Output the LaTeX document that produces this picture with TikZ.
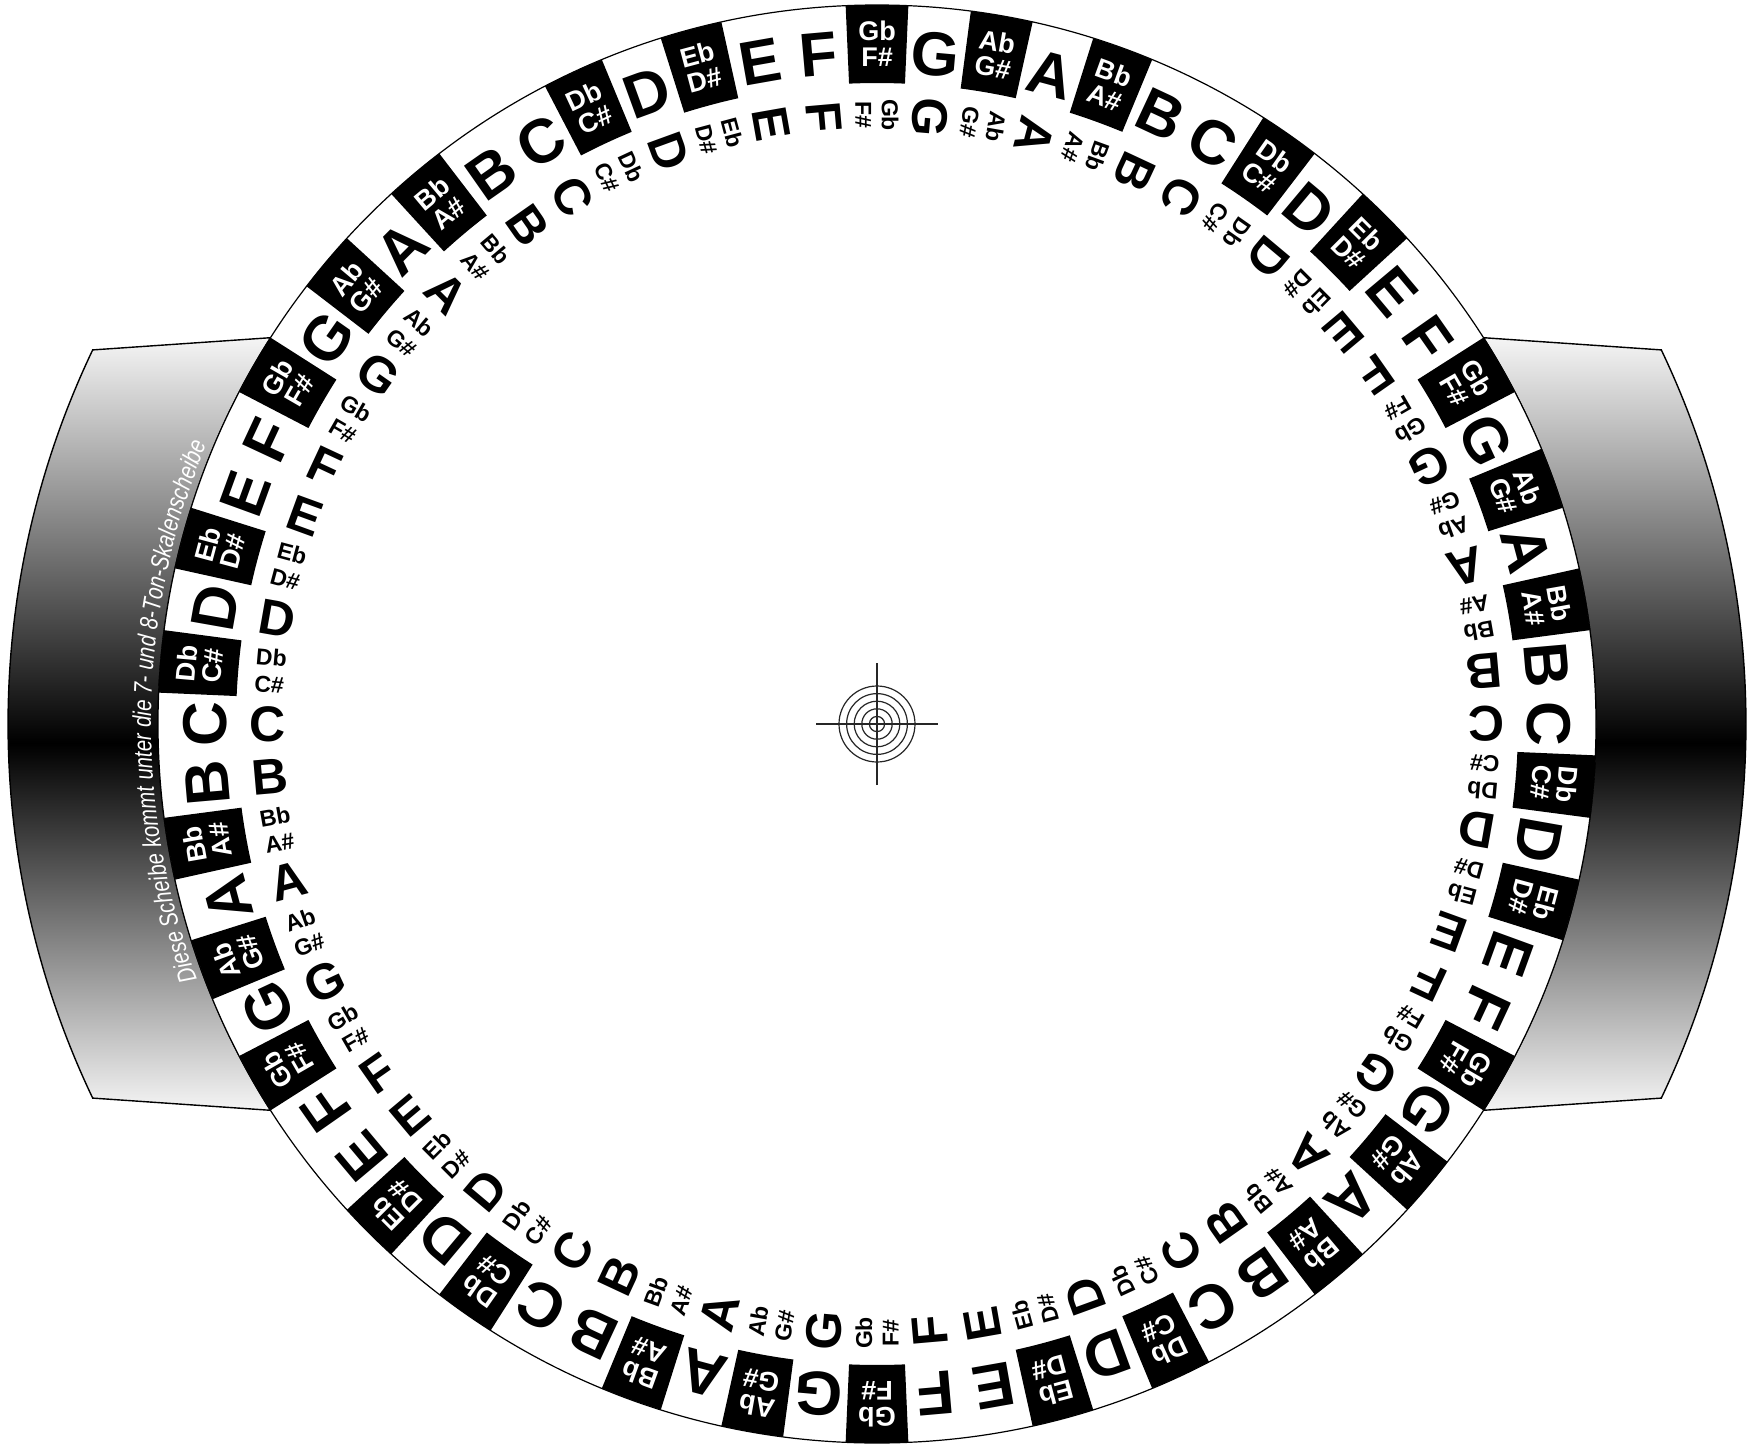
\documentclass[tikz,border=0pt]{standalone}
\usepackage{fontspec}
\setmainfont{Liberation Sans}
\newfontfamily\tabfam[FakeStretch=0.8]{Liberation Sans}
\usetikzlibrary{decorations.text}
\begin{document}
\begin{tikzpicture}[x=0.5pt,y=0.5pt,
  outnat/.style={font=\bfseries\fontsize{31}{31}\selectfont, inner sep=0pt},
  outsh/.style={text=white, font=\bfseries\fontsize{13.5}{12.9}\selectfont, align=center, inner sep=0pt},
  innat/.style={font=\bfseries\fontsize{25}{25}\selectfont, inner sep=0pt},
  insh/.style={font=\bfseries\fontsize{11.5}{13.3}\selectfont, align=center, inner sep=0pt},
  sector/.style={fill=black},
  tabline/.style={draw=black, line width=0.7pt},
  rim/.style={draw=black, fill=white, line width=0.6pt},
  targetline/.style={draw=black!85, line width=0.6pt}]
\useasboundingbox (0,0) rectangle (1753,-1446);
\coordinate (ctr) at (877,-724);
\begin{scope}[shift={(877,-724)}]
  % left tab
  \begin{scope}
    \clip (154.5:869) arc[start angle=154.5, end angle=205.5, radius=869] -- (212.5:719) arc[start angle=212.5, end angle=147.5, radius=719] -- cycle;
    \shade[top color=black!3, bottom color=black] (-900,390) rectangle (0,-19);
    \shade[top color=black, bottom color=black!3] (-900,-19) rectangle (0,-390);
  \end{scope}
  \draw[tabline] (154.5:869) arc[start angle=154.5, end angle=205.5, radius=869] -- (212.5:719) arc[start angle=212.5, end angle=147.5, radius=719] -- cycle;
  % right tab
  \begin{scope}
    \clip (25.5:869) arc[start angle=25.5, end angle=-25.5, radius=869] -- (-32.5:719) arc[start angle=-32.5, end angle=32.5, radius=719] -- cycle;
    \shade[top color=black!3, bottom color=black] (0,390) rectangle (900,-19);
    \shade[top color=black, bottom color=black!3] (0,-19) rectangle (900,-390);
  \end{scope}
  \draw[tabline] (25.5:869) arc[start angle=25.5, end angle=-25.5, radius=869] -- (-32.5:719) arc[start angle=-32.5, end angle=32.5, radius=719] -- cycle;
  % tab text
  \path[decorate, decoration={text along path, text align=center, text color=white,
     text={|\tabfam\itshape\fontsize{12.8}{12.8}\selectfont|Diese Scheibe kommt unter die 7- und 8-Ton-Skalenscheibe}}]
     (207:726) arc[start angle=207, end angle=151, radius=726];
  % disc
  \draw[rim] (0,0) circle[radius=719];
  % notes
  \foreach \o in {0,...,5}{
    \foreach \j/\lab/\sh in {0/{Gb\\F\#}/1,1/G/0,2/{Ab\\G\#}/1,3/A/0,4/{Bb\\A\#}/1,5/B/0,6/C/0,7/{Db\\C\#}/1,8/D/0,9/{Eb\\D\#}/1,10/E/0,11/F/0}{
      \pgfmathsetmacro\a{90-5*(12*\o+\j)}
      \pgfmathsetmacro\al{\a-2.5}
      \pgfmathsetmacro\ar{\a+2.5}
      \pgfmathsetmacro\ro{\a-90}
      \pgfmathsetmacro\ri{\a-180}
      \ifnum\sh=1
        \fill[sector] (\al:641) arc[start angle=\al, end angle=\ar, radius=641] -- (\ar:719) arc[start angle=\ar, end angle=\al, radius=719] -- cycle;
        \node[outsh, rotate=\ro] (o-\o-\j) at (\a:680) {\lab};
        \node[insh, rotate=\ri] (i-\o-\j) at (\a:609) {\lab};
      \else
        \node[outnat, rotate=\ro] (o-\o-\j) at (\a:672) {\lab};
        \node[innat, rotate=\ri] (i-\o-\j) at (\a:609) {\lab};
      \fi
    }
  }
  % target
  \foreach \r in {7.6,15.2,22.8,30.4,38}{
    \draw[targetline] (0,0) circle[radius=\r];
  }
  \draw[targetline] (-61,0) -- (61,0) (0,-61) -- (0,61);
\end{scope}
\end{tikzpicture}
\end{document}
